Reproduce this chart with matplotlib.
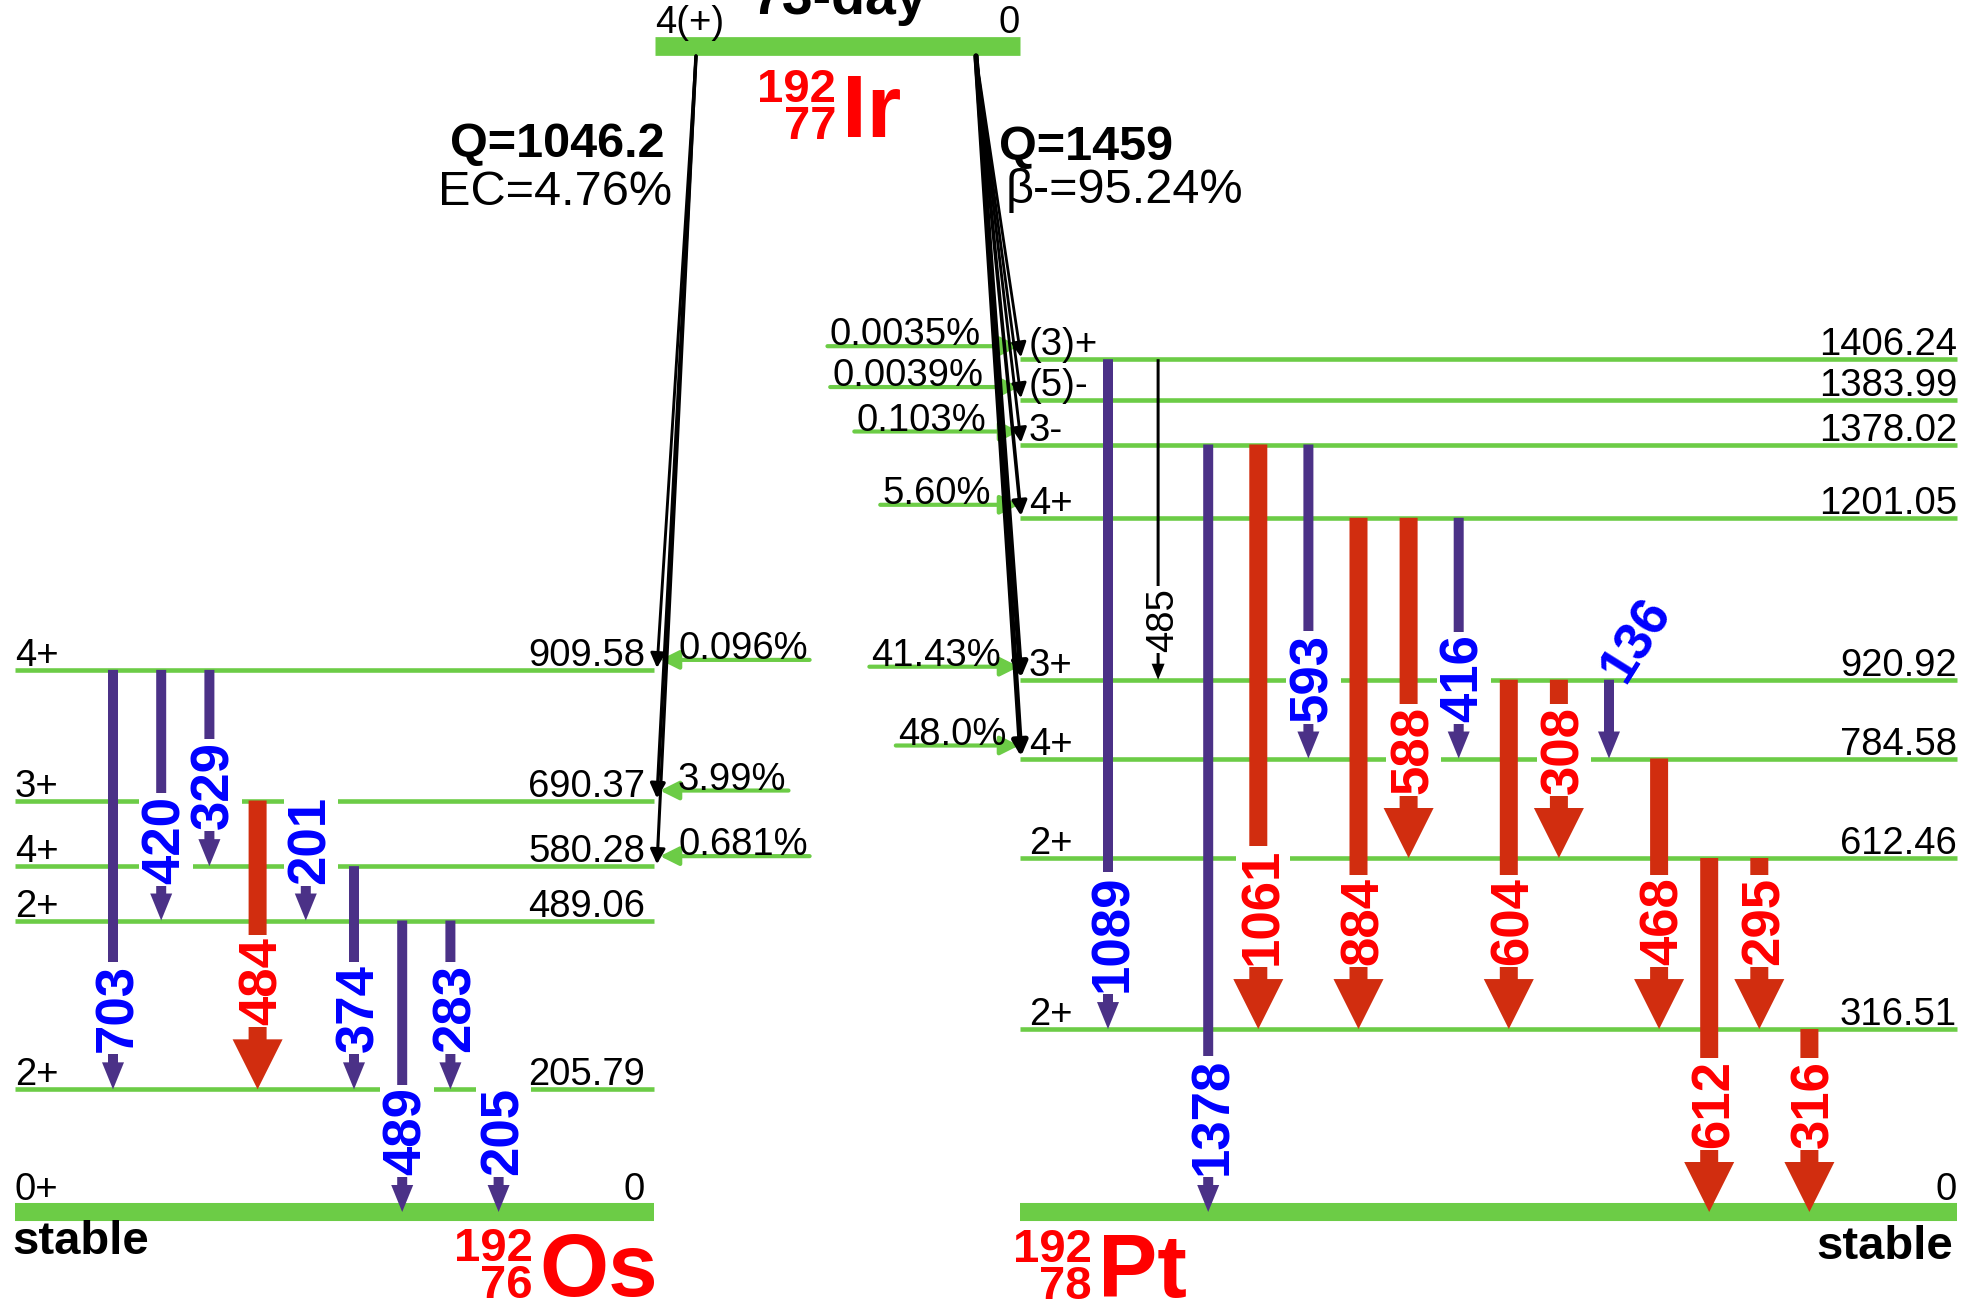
import numpy as np
import matplotlib.pyplot as plt

plt.rcParams['font.family'] = ['Liberation Sans', 'DejaVu Sans']

# ---- data ----
title = "73-day"
ir_spin = "4(+)"

os_energy = [0, 205.79, 489.06, 580.28, 690.37, 909.58]
os_spin = ["0+", "2+", "2+", "4+", "3+", "4+"]
pt_energy = [0, 316.51, 612.46, 784.58, 920.92, 1201.05, 1378.02, 1383.99, 1406.24]
pt_spin = ["", "2+", "2+", "4+", "3+", "4+", "3-", "(5)-", "(3)+"]

ec_level = [909.58, 690.37, 580.28]
ec_pct = ["0.096", "3.99", "0.681"]
bm_level = [1406.24, 1383.99, 1378.02, 1201.05, 920.92, 784.58]
bm_pct = ["0.0035", "0.0039", "0.103", "5.60", "41.43", "48.0"]

# gamma lines: energy, from level, to level, kind (w = weak, s = strong, k = very weak)
os_gamma = [703, 420, 329, 484, 201, 374, 489, 283, 205]
os_from = [909.58, 909.58, 909.58, 690.37, 690.37, 580.28, 489.06, 489.06, 205.79]
os_to = [205.79, 489.06, 580.28, 205.79, 489.06, 205.79, 0, 205.79, 0]
os_kind = ["w", "w", "w", "s", "w", "w", "w", "w", "w"]

pt_gamma = [1089, 485, 1378, 1061, 593, 884, 588, 416, 604, 308, 136, 468, 612, 295, 316]
pt_from = [1406.24, 1406.24, 1378.02, 1378.02, 1378.02, 1201.05, 1201.05, 1201.05,
           920.92, 920.92, 920.92, 784.58, 612.46, 612.46, 316.51]
pt_to = [316.51, 920.92, 0, 316.51, 784.58, 316.51, 612.46, 784.58,
         316.51, 612.46, 784.58, 316.51, 0, 316.51, 0]
pt_kind = ["w", "k", "w", "s", "w", "s", "s", "w", "s", "s", "w", "s", "s", "s", "s"]

# ---- styles / layout ----
GREEN = "#6ccc46"
PURPLE = "#4b3187"
RED = "#d12d0f"
W, H = 1963, 1303

STYLE = {
    "w": dict(c=PURPLE, w=10, hw=22, hl=27, gap=10, tc="#0000ff", fs=38, fw="bold"),
    "s": dict(c=RED, w=18, hw=50, hl=50, gap=14, tc="#ff0000", fs=38, fw="bold"),
    "k": dict(c="black", w=3, hw=13, hl=16, gap=12, tc="black", fs=27.5, fw="normal"),
}

fig = plt.figure(figsize=(W / 100, H / 100), dpi=100)
ax = fig.add_axes([0, 0, 1, 1])
ax.set_xlim(0, W)
ax.set_ylim(H, 0)
ax.axis("off")


def os_y(e):
    return 1212 - 0.596 * e


pt_nudge = {1378.02: 29, 1383.99: -12, 1406.24: -40}


def pt_y(e):
    return 1212 - 0.578 * e + pt_nudge.get(e, 0)


def draw_levels(energies, spins, yfun, x0, x1, spin_x, en_x):
    for e, s in zip(energies, spins):
        y = yfun(e)
        if e == 0:
            ax.plot([x0, x1], [y, y], color=GREEN, lw=13, solid_capstyle="butt", zorder=1)
            ty = y - 12
        else:
            ax.plot([x0, x1], [y, y], color=GREEN, lw=3.3, solid_capstyle="butt", zorder=1)
            ty = y - 4
        lab = "0" if e == 0 else f"{e:.2f}"
        ax.text(en_x, ty, lab, ha="right", va="baseline", fontsize=27.5, zorder=4)
        if s:
            ax.text(spin_x, ty, s, ha="left", va="baseline", fontsize=27.5, zorder=4)


def draw_gamma(x, y0, y1, kind, label):
    st = STYLE[kind]
    ax.arrow(x, y0, 0, y1 - y0, width=st["w"], head_width=st["hw"], head_length=st["hl"],
             length_includes_head=True, fc=st["c"], ec="none", zorder=3)
    room = y1 - st["hl"] - st["gap"] - y0
    if room < 0.6 * len(str(label)) * 0.556 * st["fs"] * 100 / 72:
        # not enough room along the arrow: slanted label at the top
        ax.text(x + 28, y0 - 40, str(label), rotation=58, rotation_mode="anchor",
                ha="center", va="center", color=st["tc"], fontsize=st["fs"],
                fontweight=st["fw"], zorder=5)
        return
    ax.text(x + 5, y1 - st["hl"] - st["gap"], str(label), rotation=90, ha="center", va="bottom",
            color=st["tc"], fontsize=st["fs"], fontweight=st["fw"], zorder=5,
            bbox=dict(boxstyle="square,pad=0.04", fc="white", ec="none"))


# parent level
ax.plot([655, 1020], [46, 46], color=GREEN, lw=13.5, solid_capstyle="butt", zorder=1)
ax.text(655, 33, ir_spin, ha="left", va="baseline", fontsize=27.5)
ax.text(1020, 33, "0", ha="right", va="baseline", fontsize=27.5)
ax.text(840, 14, title, ha="center", va="baseline", fontsize=40, fontweight="bold")

# daughter levels
draw_levels(os_energy, os_spin, os_y, 15, 654, 15, 645)
draw_levels(pt_energy, pt_spin, pt_y, 1020, 1957, 1029, 1957)

# gamma transitions
for i, (g, a, b, k) in enumerate(zip(os_gamma, os_from, os_to, os_kind)):
    draw_gamma(113 + 48.2 * i, os_y(a), os_y(b), k, g)
for i, (g, a, b, k) in enumerate(zip(pt_gamma, pt_from, pt_to, pt_kind)):
    draw_gamma(1108 + 50.1 * i, pt_y(a), pt_y(b), k, g)

# EC and beta- feeding
renderer = fig.canvas.get_renderer()
inv = ax.transData.inverted()
black_head = "-|>,head_length=0.55,head_width=0.28"
green_head = "-|>,head_length=0.7,head_width=0.35"
for e, p in zip(ec_level, ec_pct):
    y = os_y(e)
    lw = 2.0 + 0.25 * np.sqrt(float(p))
    ax.annotate("", xy=(657, y - 2), xytext=(696, 56), zorder=3,
                arrowprops=dict(arrowstyle=black_head, mutation_scale=16, lw=lw,
                                color="black", shrinkA=0, shrinkB=0))
    ly = y - 10
    t = ax.text(678, ly - 1, p + "%", ha="left", va="baseline", fontsize=27.5, zorder=4)
    bb = t.get_window_extent(renderer)
    xr = inv.transform((bb.x1, bb.y0))[0]
    ax.annotate("", xy=(660, ly), xytext=(xr + 2, ly), zorder=2,
                arrowprops=dict(arrowstyle=green_head, mutation_scale=16, lw=3,
                                color=GREEN, shrinkA=0, shrinkB=0))

x_top, x_tip = 976, 1021
for e, p in zip(bm_level, bm_pct):
    y = pt_y(e)
    lw = 2.0 + 0.25 * np.sqrt(float(p))
    ax.annotate("", xy=(x_tip, y - 2), xytext=(x_top, 56), zorder=3,
                arrowprops=dict(arrowstyle=black_head, mutation_scale=16, lw=lw,
                                color="black", shrinkA=0, shrinkB=0))
    ly = y - 13
    xr = x_top + (x_tip - x_top) * (ly - 56) / (pt_y(784.58) - 56) - 14
    t = ax.text(xr, ly - 1, p + "%", ha="right", va="baseline", fontsize=27.5, zorder=4)
    bb = t.get_window_extent(renderer)
    xl = inv.transform((bb.x0, bb.y0))[0]
    ax.annotate("", xy=(1019, ly), xytext=(xl - 2, ly), zorder=2,
                arrowprops=dict(arrowstyle=green_head, mutation_scale=16, lw=3,
                                color=GREEN, shrinkA=0, shrinkB=0))

# Q values
ax.text(665, 157, "Q=1046.2", ha="right", va="baseline", fontsize=35, fontweight="bold")
ax.text(672, 205, "EC=4.76%", ha="right", va="baseline", fontsize=35)
ax.text(999, 160, "Q=1459", ha="left", va="baseline", fontsize=35, fontweight="bold")
ax.text(1006, 203, "β-=95.24%", ha="left", va="baseline", fontsize=35)


# nuclide names
def nuclide(x, y, mass, z, sym):
    ax.text(x, y - 37, mass, ha="right", va="baseline", color="red", fontsize=34, fontweight="bold")
    ax.text(x, y, z, ha="right", va="baseline", color="red", fontsize=34, fontweight="bold")
    ax.text(x + 6, y - 2, sym, ha="left", va="baseline", color="red", fontsize=64, fontweight="bold")


nuclide(836, 139, "192", "77", "Ir")
nuclide(533, 1298, "192", "76", "Os")
nuclide(1092, 1299, "192", "78", "Pt")

ax.text(12, 1254, "stable", ha="left", va="baseline", fontsize=34, fontweight="bold")
ax.text(1953, 1259, "stable", ha="right", va="baseline", fontsize=34, fontweight="bold")

fig.savefig("out.png", dpi=100, facecolor="white")
